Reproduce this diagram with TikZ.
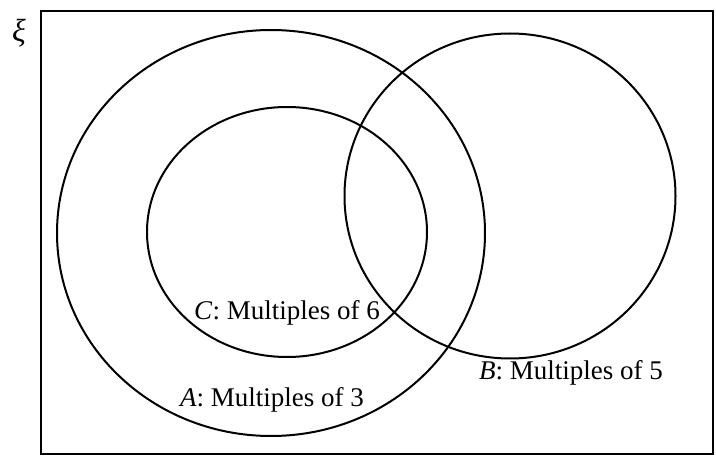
\documentclass[tikz,border=0pt]{standalone}
\usepackage{fontspec}
\setmainfont{Liberation Serif}
\usepackage{tikz}
\usetikzlibrary{shapes.geometric}
\tikzset{
  st/.style={draw,line width=2pt,ellipse,inner sep=0pt},
  lb/.style={font=\fontsize{27}{30}\selectfont,inner sep=0pt},
  uni/.style={draw,line width=2.6pt}
}
\begin{document}
\begin{tikzpicture}[x=1pt,y=-1pt]
\useasboundingbox (0,0) rectangle (716,457);
\draw[uni] (41,11) rectangle (713,454);
\node[lb,font=\fontsize{32}{34}\selectfont] (xi) at (19,33) {\textit{ξ}};
% sets
\node[st,minimum width=428pt,minimum height=406pt] (A) at (271,233) {};
\node[st,minimum width=331pt,minimum height=325pt] (B) at (510,196) {};
\node[st,minimum width=280pt,minimum height=250pt] (C) at (287,232) {};
% labels
\node[lb] (lc) at (287,313) {\textit{C}: Multiples of 6};
\node[lb] (lb) at (571,373) {\textit{B}: Multiples of 5};
\node[lb] (la) at (272,400) {\textit{A}: Multiples of 3};
\end{tikzpicture}
\end{document}
